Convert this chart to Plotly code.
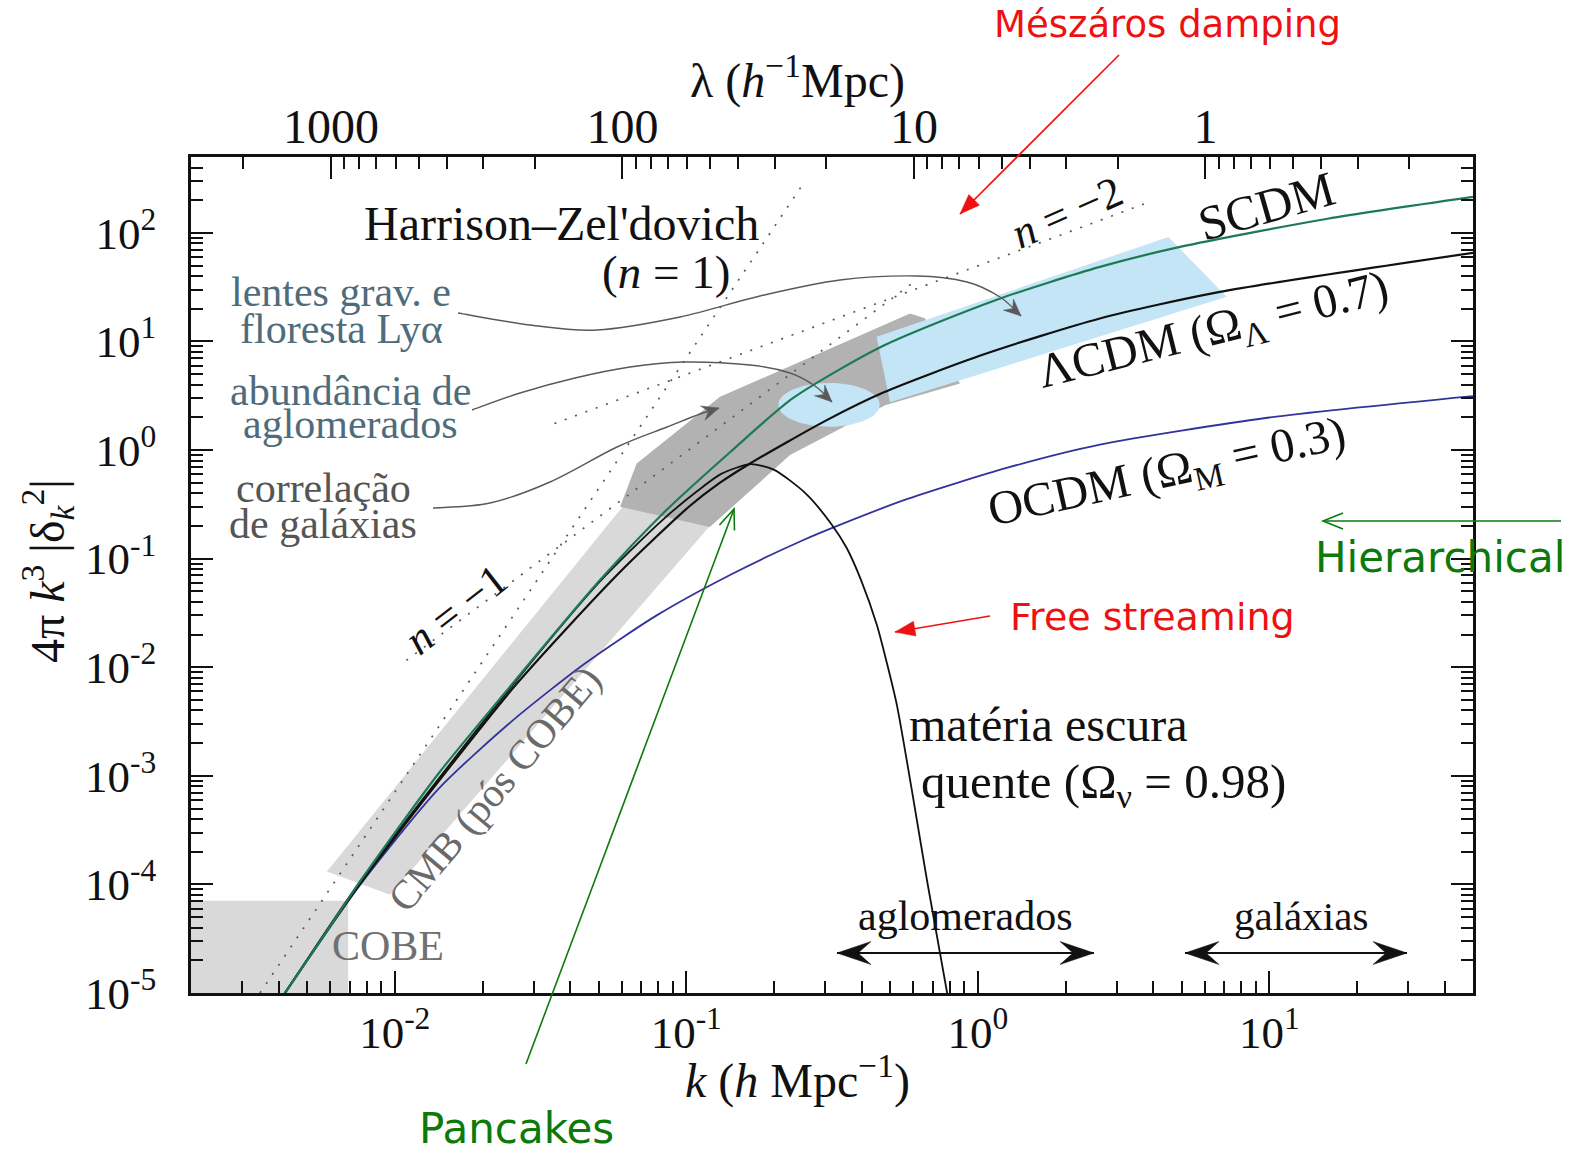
import numpy as np
import plotly.graph_objects as go

SERIF = "Liberation Serif, Times New Roman, serif"
SANS = "DejaVu Sans, Verdana, sans-serif"

# --- Delta^2(k) = 4 pi k^3 |delta_k|^2 for each model, k in h Mpc^-1 ---
scdm_k = [0.0040, 0.0042, 0.0060, 0.00748, 0.01413, 0.02296, 0.0506, 0.0832,
          0.1413, 0.2328, 0.4742, 1.175, 2.624, 4.943, 15.85, 50.0]
scdm_p = [8.2e-6, 1.0e-5, 4.1e-5, 1.0e-4, 1.05e-3, 5.13e-3, 0.0635, 0.261,
          0.955, 3.02, 9.12, 24.5, 48.6, 74.3, 134.9, 214.3]

lcdm_k = [0.0040, 0.0042, 0.00748, 0.01413, 0.02624, 0.0579, 0.1023, 0.1306,
          0.1656, 0.3034, 0.4742, 1.045, 2.624, 6.776, 50.0]
lcdm_p = [8.2e-6, 1.0e-5, 9.55e-5, 8.9e-4, 7.08e-3, 0.0708, 0.302, 0.501,
          0.753, 1.888, 3.39, 7.59, 16.3, 28.6, 65.5]

ocdm_k = [0.00398, 0.0042, 0.00748, 0.01413, 0.02512, 0.04467, 0.07943, 0.1413,
          0.2512, 0.3281, 0.5741, 1.274, 2.624, 10.0, 50.0]
ocdm_p = [8.13e-6, 1.0e-5, 9.33e-5, 7.59e-4, 3.16e-3, 0.01072, 0.0302, 0.0708,
          0.1479, 0.1995, 0.3548, 0.6918, 1.122, 1.995, 3.14]

hdm_k = [0.0040, 0.0042, 0.00748, 0.02296, 0.0506, 0.0832, 0.1089, 0.1318,
         0.166, 0.1995, 0.2582, 0.3162, 0.3548, 0.3981, 0.4508, 0.4898,
         0.5284, 0.5957, 0.6714, 0.7852, 0.8128]
hdm_p = [8.2e-6, 1.0e-5, 1.0e-4, 4.9e-3, 0.0617, 0.229, 0.417, 0.603,
         0.741, 0.661, 0.3936, 0.2042, 0.1259, 0.0631, 0.02449, 0.01047,
         4.436e-3, 7.08e-4, 1.047e-4, 1.0e-5, 5.6e-6]

# --- observational constraints (polygon vertices in k, Delta^2) ---
cobe_k = [0.002, 0.00692, 0.00692, 0.002]
cobe_p = [1.0e-5, 1.0e-5, 7.06e-5, 7.06e-5]
cmb_k = [0.00585, 0.00964, 0.1205, 0.0631]
cmb_p = [1.315e-4, 8.02e-5, 0.1995, 0.3467]
galcorr_k = [0.0593, 0.0676, 0.1306, 0.586, 0.659, 0.869, 0.481, 0.227, 0.1205]
galcorr_p = [0.3006, 0.753, 3.09, 18.1, 16.4, 4.11, 2.59, 0.90, 0.1954]
lya_k = [0.4498, 4.508, 7.145, 0.500]
lya_p = [11.04, 91.8, 25.76, 2.761]
clusters_k, clusters_p = 0.309, 2.61          # centre of the cluster-abundance ellipse
clusters_dex_k, clusters_dex_p = 0.174, 0.202  # half-widths in decades

# --- power-law reference slopes Delta^2 ~ k^(3+n) ---
hz_k, hz_p = [0.00345, 0.2489], [1.0e-5, 270.4]      # n = 1
nm1_k, nm1_p = [0.01096, 0.6095], [0.01156, 35.9]   # n = -1
nm2_k, nm2_p = [0.0353, 3.90], [1.754, 193.6]       # n = -2

# --- axes ---
k_range = (0.002, 50.0)
p_range = (1.0e-5, 500.0)
lam_range = (3020.0, 0.1208)
k_ticks = [0.01, 0.1, 1.0, 10.0]
k_ticktext = ["10<sup>-2</sup>", "10<sup>-1</sup>", "10<sup>0</sup>", "10<sup>1</sup>"]
p_ticks = [1e-5, 1e-4, 1e-3, 1e-2, 1e-1, 1e0, 1e1, 1e2]
p_ticktext = ["10<sup>-5</sup>", "10<sup>-4</sup>", "10<sup>-3</sup>", "10<sup>-2</sup>",
              "10<sup>-1</sup>", "10<sup>0</sup>", "10<sup>1</sup>", "10<sup>2</sup>"]
lam_ticks = [1000, 100, 10, 1]
lam_ticktext = ["1000", "100", "10", "1"]


def minor_values(lo, hi):
    out = []
    for e in range(-7, 5):
        for m in range(2, 10):
            v = m * 10.0 ** e
            if lo * 0.999 <= v <= hi * 1.001:
                out.append(v)
    return out


fig = go.Figure()


def region(kv, pv, color):
    fig.add_trace(go.Scatter(x=list(kv) + [kv[0]], y=list(pv) + [pv[0]], mode="lines",
                             fill="toself", fillcolor=color, line=dict(width=0, color=color),
                             hoverinfo="skip", showlegend=False))


region(cobe_k, cobe_p, "#d9d9d9")
region(cmb_k, cmb_p, "#d9d9d9")
region(galcorr_k, galcorr_p, "#b2b2b2")
region(lya_k, lya_p, "#c3e5f6")

t = np.linspace(0, 2 * np.pi, 91)
ell_k = 10 ** (np.log10(clusters_k) + clusters_dex_k * np.cos(t))
ell_p = 10 ** (np.log10(clusters_p) + clusters_dex_p * np.sin(t))
region(ell_k, ell_p, "#c3e5f6")

for kv, pv in [(hz_k, hz_p), (nm1_k, nm1_p), (nm2_k, nm2_p)]:
    fig.add_trace(go.Scatter(x=kv, y=pv, mode="lines",
                             line=dict(color="#5a5a5a", width=1.7, dash="2px,9px"),
                             hoverinfo="skip", showlegend=False))


def curve(kv, pv, color, width=2.0):
    fig.add_trace(go.Scatter(x=kv, y=pv, mode="lines",
                             line=dict(color=color, width=width, shape="spline", smoothing=0.7),
                             hoverinfo="skip", showlegend=False))


curve(ocdm_k, ocdm_p, "#33339a", 1.8)
curve(hdm_k, hdm_p, "#111111", 1.8)
curve(lcdm_k, lcdm_p, "#111111", 2.2)
curve(scdm_k, scdm_p, "#1d7a55", 2.2)

# carrier trace for the wavelength / right-hand axes
fig.add_trace(go.Scatter(x=[10], y=[1], xaxis="x2", yaxis="y2", mode="markers",
                         marker=dict(opacity=0), hoverinfo="skip", showlegend=False))

# --- page geometry for text and pointers ---
PLOT_L, PLOT_R, PLOT_T, PLOT_B = 191, 1473, 157, 993


def page(x, y):
    return (x - PLOT_L) / (PLOT_R - PLOT_L), (PLOT_B - y) / (PLOT_B - PLOT_T)


annotations = []
shapes = []


def label(x, y, text, size, color="#111111", angle=0, family=SERIF, anchor="center"):
    px_, py_ = page(x, y)
    annotations.append(dict(x=px_, y=py_, xref="paper", yref="paper", text=text,
                            showarrow=False, textangle=angle, xanchor=anchor, yanchor="middle",
                            font=dict(family=family, size=size, color=color)))


def path_str(points, closed=False):
    pts = [page(x, y) for x, y in points]
    s = "M{:.5f},{:.5f}".format(*pts[0])
    for p in pts[1:]:
        s += " L{:.5f},{:.5f}".format(*p)
    return s + (" Z" if closed else "")


def smooth_str(points):
    pts = [np.array(page(x, y)) for x, y in points]
    s = "M{:.5f},{:.5f}".format(*pts[0])
    n = len(pts)
    for i in range(n - 1):
        p0 = pts[i - 1] if i > 0 else pts[i]
        p1, p2 = pts[i], pts[i + 1]
        p3 = pts[i + 2] if i + 2 < n else pts[i + 1]
        c1 = p1 + (p2 - p0) / 6.0
        c2 = p2 - (p3 - p1) / 6.0
        s += " C{:.5f},{:.5f} {:.5f},{:.5f} {:.5f},{:.5f}".format(c1[0], c1[1], c2[0], c2[1], p2[0], p2[1])
    return s


def head(tip, frm, color, length, half, notch=1.0, open_head=False, lw=1.5):
    tip = np.array(tip, float)
    u = tip - np.array(frm, float)
    u /= np.hypot(*u)
    nrm = np.array([-u[1], u[0]])
    a = tip - length * u + half * nrm
    b = tip - length * u - half * nrm
    if open_head:
        shapes.append(dict(type="path", xref="paper", yref="paper",
                           path=path_str([a, tip, b]), line=dict(color=color, width=lw)))
    else:
        c = tip - notch * length * u
        shapes.append(dict(type="path", xref="paper", yref="paper",
                           path=path_str([tip, a, c, b], closed=True),
                           fillcolor=color, line=dict(color=color, width=0.5)))


def straight_arrow(tail, tip, color, lw, length, half, notch=1.0, open_head=False, both=False):
    shapes.append(dict(type="path", xref="paper", yref="paper",
                       path=path_str([tail, tip]), line=dict(color=color, width=lw)))
    head(tip, tail, color, length, half, notch, open_head, lw)
    if both:
        head(tail, tip, color, length, half, notch, open_head, lw)


def leader(points, color="#595959"):
    shapes.append(dict(type="path", xref="paper", yref="paper",
                       path=smooth_str(points), line=dict(color=color, width=1.4)))
    head(points[-1], points[-2], color, 17, 7.5, notch=0.65)


# leader curves from the constraint labels
leader([(458, 313), (530, 325), (597, 330), (680, 317), (760, 296), (840, 280),
        (917, 276), (967, 282), (1000, 297), (1021, 316)])
leader([(472, 410), (520, 393), (575, 378), (630, 367), (683, 362), (750, 365),
        (790, 373), (815, 386), (832, 402)])
leader([(433, 508), (490, 503), (550, 482), (617, 447), (667, 427), (700, 414), (719, 408)])

# scale ranges for clusters and galaxies
straight_arrow((837, 953), (1094, 953), "#111111", 2.0, 34, 11.5, notch=0.62, both=True)
straight_arrow((1185, 953), (1407, 953), "#111111", 2.0, 34, 11.5, notch=0.62, both=True)

# red and green pointers
straight_arrow((1119, 55), (960, 214), "#ee1111", 1.6, 20, 7.5)
straight_arrow((990, 616), (895, 632), "#ee1111", 1.6, 20, 7.5)
straight_arrow((526, 1064), (734, 509), "#0b7a0b", 1.6, 20, 8, open_head=True)
straight_arrow((1561, 521), (1323, 521), "#0b7a0b", 1.6, 20, 8, open_head=True)

# --- text ---
label(561, 224, "Harrison–Zel'dovich", 48)
label(666, 272, "(<i>n</i> = 1)", 47)
label(341, 292, "lentes grav. e", 42, "#4e6c7b")
label(341, 329, "floresta Lyα", 42, "#4e6c7b")
label(350, 391, "abundância de", 42, "#4e6c7b")
label(350, 424, "aglomerados", 42, "#4e6c7b")
label(323, 488, "correlação", 42, "#555555")
label(323, 524, "de galáxias", 42, "#555555")
label(456, 609, "<i>n</i> = −1", 44, angle=-38)
label(1067, 212, "<i>n</i> = −2", 44, angle=-24)
label(1266, 206, "SCDM", 49, angle=-16)
label(1213, 332, "ΛCDM (Ω<sub>Λ</sub> = 0.7)", 48, angle=-14)
label(1167, 474, "OCDM (Ω<sub>M</sub> = 0.3)", 48, angle=-12.5)
label(494, 789, "CMB (pós COBE)", 41, "#6a6a6a", angle=-50)
label(388, 946, "COBE", 42, "#707070")
label(907, 724, "matéria escura", 48, anchor="left")
label(919, 784, "quente (Ω<sub>ν</sub> = 0.98)", 49, anchor="left")
label(965, 916, "aglomerados", 42)
label(1301, 916, "galáxias", 41)

label(1167, 25, "Mészáros damping", 37, "#ee1111", family=SANS)
label(1152, 617, "Free streaming", 38, "#ee1111", family=SANS)
label(516, 1128, "Pancakes", 42, "#0b7a0b", family=SANS)
label(1440, 557, "Hierarchical", 42, "#0b7a0b", family=SANS)

# axis titles
label(797, 1077, "<i>k</i> (<i>h</i> Mpc<sup>−1</sup>)", 48)
label(797, 78, "λ (<i>h</i><sup>−1</sup>Mpc)", 48)
label(47, 571, "4π <i>k</i><sup>3</sup> |δ<sub><i>k</i></sub><sup>2</sup>|", 48, angle=-90)

tick_font = dict(family=SERIF, size=45, color="#111111")
common = dict(type="log", showgrid=False, zeroline=False, showline=True, linecolor="#111111",
              linewidth=2.5, ticks="inside", ticklen=22, tickwidth=2, tickcolor="#111111")
minor_style = dict(ticks="inside", ticklen=12, tickwidth=1.8, tickcolor="#111111")

fig.update_layout(
    width=1581, height=1155,
    margin=dict(l=PLOT_L, r=1581 - PLOT_R, t=PLOT_T, b=1155 - PLOT_B),
    paper_bgcolor="white", plot_bgcolor="white", showlegend=False,
    xaxis=dict(range=[np.log10(k_range[0]), np.log10(k_range[1])], tickmode="array",
               tickvals=k_ticks, ticktext=k_ticktext, ticklabelstandoff=-2, tickfont=tick_font,
               minor=dict(tickvals=minor_values(*k_range), **minor_style), **common),
    yaxis=dict(range=[np.log10(p_range[0]), np.log10(p_range[1])], tickmode="array",
               tickvals=p_ticks, ticktext=p_ticktext, ticklabelstandoff=23, tickfont=tick_font,
               minor=dict(tickvals=minor_values(*p_range), **minor_style), **common),
    xaxis2=dict(overlaying="x", side="top", anchor="y",
                range=[np.log10(lam_range[0]), np.log10(lam_range[1])], tickmode="array",
                tickvals=lam_ticks, ticktext=lam_ticktext, ticklabelstandoff=-8,
                tickfont=dict(family=SERIF, size=48, color="#111111"),
                minor=dict(tickvals=minor_values(lam_range[1], lam_range[0]), **minor_style),
                **common),
    yaxis2=dict(overlaying="y", side="right", anchor="x",
                range=[np.log10(p_range[0]), np.log10(p_range[1])], tickmode="array",
                tickvals=p_ticks, showticklabels=False, tickfont=tick_font,
                minor=dict(tickvals=minor_values(*p_range), **minor_style), **common),
    annotations=annotations,
    shapes=shapes,
)

fig.write_html("out.html", post_script="document.body.style.margin='0';")
